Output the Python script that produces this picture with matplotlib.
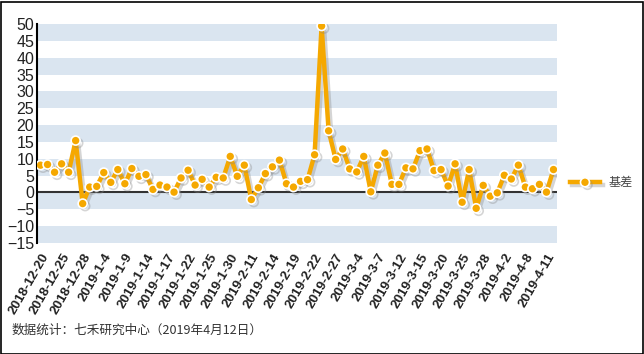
import matplotlib
matplotlib.use("Agg")
import matplotlib.pyplot as plt
import matplotlib.patheffects as pe
from matplotlib.patches import Rectangle
from matplotlib.lines import Line2D

plt.rcParams['font.family'] = ['Liberation Sans', 'Noto Sans CJK SC', 'DejaVu Sans']

# tick labels (every third trading day)
tick_labels = ["2018-12-20", "2018-12-25", "2018-12-28", "2019-1-4", "2019-1-9",
               "2019-1-14", "2019-1-17", "2019-1-22", "2019-1-25", "2019-1-30",
               "2019-2-11", "2019-2-14", "2019-2-19", "2019-2-22", "2019-2-27",
               "2019-3-4", "2019-3-7", "2019-3-12", "2019-3-15", "2019-3-20",
               "2019-3-25", "2019-3-28", "2019-4-2", "2019-4-8", "2019-4-11"]

# basis values, one per trading day 2018-12-20 .. 2019-4-12
basis = [8.1, 8.3, 6.0, 8.5, 6.0, 15.4, -3.3, 1.6, 1.8, 5.9,
         3.0, 6.8, 2.6, 7.1, 4.8, 5.3, 0.9, 2.2, 1.6, 0.1,
         4.3, 6.6, 2.2, 3.9, 1.6, 4.5, 4.3, 10.7, 4.8, 8.1,
         -2.1, 1.4, 5.6, 7.6, 9.6, 2.6, 1.6, 3.3, 3.8, 11.2,
         49.4, 18.3, 9.8, 12.9, 7.0, 6.1, 10.7, 0.2, 8.1, 11.7,
         2.4, 2.4, 7.3, 7.0, 12.4, 12.9, 6.5, 6.8, 1.9, 8.5,
         -2.9, 6.8, -4.7, 2.1, -1.1, -0.1, 5.1, 4.0, 8.1, 1.6,
         1.1, 2.4, 0.1, 6.8]

series_name = "基差"
footnote = "数据统计：七禾研究中心（2019年4月12日）"

ORANGE = "#F5A800"
BAND = "#DAE5F0"

fig = plt.figure(figsize=(6.44, 3.54), dpi=100)
ax = fig.add_axes([37/644, 1-243/354, (557-37)/644, (243-24)/354])

n = len(basis)
x = list(range(n))
ax.set_xlim(-0.5, n - 0.5)
ax.set_ylim(-15, 50)

# alternating bands
for lo in range(-15, 50, 10):
    ax.axhspan(lo, lo + 5, color=BAND, lw=0, zorder=0)

ax.axhline(0, color="#333333", lw=1.5, zorder=1)

shadow = [pe.SimpleLineShadow(offset=(1.8, -1.8), shadow_color="#888888", alpha=0.35), pe.Normal()]
ax.plot(x, basis, color=ORANGE, lw=3.2, marker="o", ms=6.5, mfc=ORANGE,
        mec="white", mew=1.2, zorder=3, path_effects=shadow, solid_joinstyle="round")

ax.set_yticks(range(-15, 51, 5))
ax.tick_params(axis="y", length=0, labelsize=11.5, labelcolor="#222222", pad=2)
ax.set_xticks(x[::3])
ax.set_xticklabels(tick_labels, rotation=60, ha="right", rotation_mode="anchor",
                   fontsize=9.6, fontweight="bold", color="#222222")
ax.tick_params(axis="x", length=0, pad=6)

for s in ["top", "right", "bottom"]:
    ax.spines[s].set_visible(False)
ax.spines["left"].set_color("black")
ax.spines["left"].set_linewidth(1.5)

handle = Line2D([0], [0], color=ORANGE, lw=3.2, marker="o", ms=6.5, mfc=ORANGE,
                mec="white", mew=1.2, path_effects=shadow)
fig.legend([handle], [series_name], loc="center left",
           bbox_to_anchor=(559/644, 1-183/354), frameon=False,
           handlelength=2.5, handletextpad=0.67,
           prop={"family": ["Noto Sans CJK SC"], "size": 8.7})
for t in fig.legends[0].get_texts():
    t.set_color("#444444")

fig.text(12/644, 1-330/354, footnote, fontsize=9.1, color="#333333",
         family=["Noto Sans CJK SC", "DejaVu Sans"], va="center")

fig.patches.append(Rectangle((0.5/644, 0.5/354), 1-2/644, 1-2/354, transform=fig.transFigure,
                             fill=False, edgecolor="black", lw=1.2))

fig.savefig("out.png", dpi=100)
